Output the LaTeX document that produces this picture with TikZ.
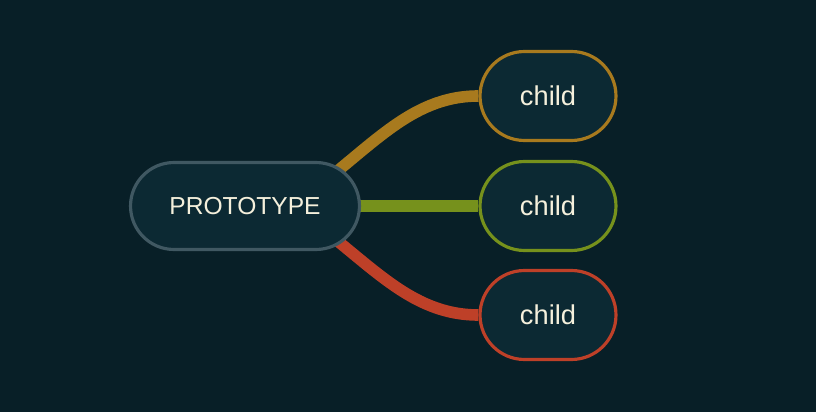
\documentclass[tikz,border=0pt]{standalone}
\usepackage{fontspec}
\setmainfont{Liberation Sans}
\usetikzlibrary{positioning,calc,shapes.misc}
\definecolor{bgcol}{RGB}{8,31,39}
\definecolor{boxfill}{RGB}{12,41,51}
\definecolor{protoline}{RGB}{64,88,98}
\definecolor{goldline}{RGB}{168,122,30}
\definecolor{oliveline}{RGB}{118,145,28}
\definecolor{redline}{RGB}{190,64,40}
\definecolor{txtcol}{RGB}{245,240,220}
\pgfdeclarelayer{bg}
\pgfdeclarelayer{links}
\pgfsetlayers{bg,links,main}
\tikzset{
  pbox/.style  = {rounded rectangle, draw=protoline, fill=boxfill, line width=1.8pt,
                  minimum width=4.58cm, minimum height=1.74cm, inner sep=0pt,
                  text=txtcol, font=\fontsize{14}{17}\selectfont},
  cbox/.style  = {rounded rectangle, draw=#1, fill=boxfill, line width=1.8pt,
                  minimum width=2.72cm, minimum height=1.78cm, inner sep=0pt,
                  text=txtcol, font=\fontsize{15.5}{18}\selectfont},
  link/.style  = {draw=#1, line width=6.6pt},
}

\begin{document}
\begin{tikzpicture}[x=0.02cm, y=-0.02cm]
  \begin{pgfonlayer}{bg}
    \fill[bgcol] (0,0) rectangle (816,412);
  \end{pgfonlayer}
  \useasboundingbox (0,0) rectangle (816,412);
  % root and its three children
  \node[pbox] (proto) at (245,206) {PROTOTYPE};
  \node[cbox=goldline]  (ctop) at (548,96)  {child};
  \node[cbox=oliveline] (cmid) at (548,206) {child};
  \node[cbox=redline]   (cbot) at (548,315) {child};
  % links, kept behind the boxes
  \begin{pgfonlayer}{links}
    \draw[link=goldline] ($(proto.center)+(55,-6)$)
      .. controls +(70,-50) and +(-70,0) .. (ctop.west);
    \draw[link=oliveline] (proto.center) -- (cmid.west);
    \draw[link=redline] ($(proto.center)+(55,6)$)
      .. controls +(70,50) and +(-70,0) .. (cbot.west);
  \end{pgfonlayer}
\end{tikzpicture}
\end{document}
